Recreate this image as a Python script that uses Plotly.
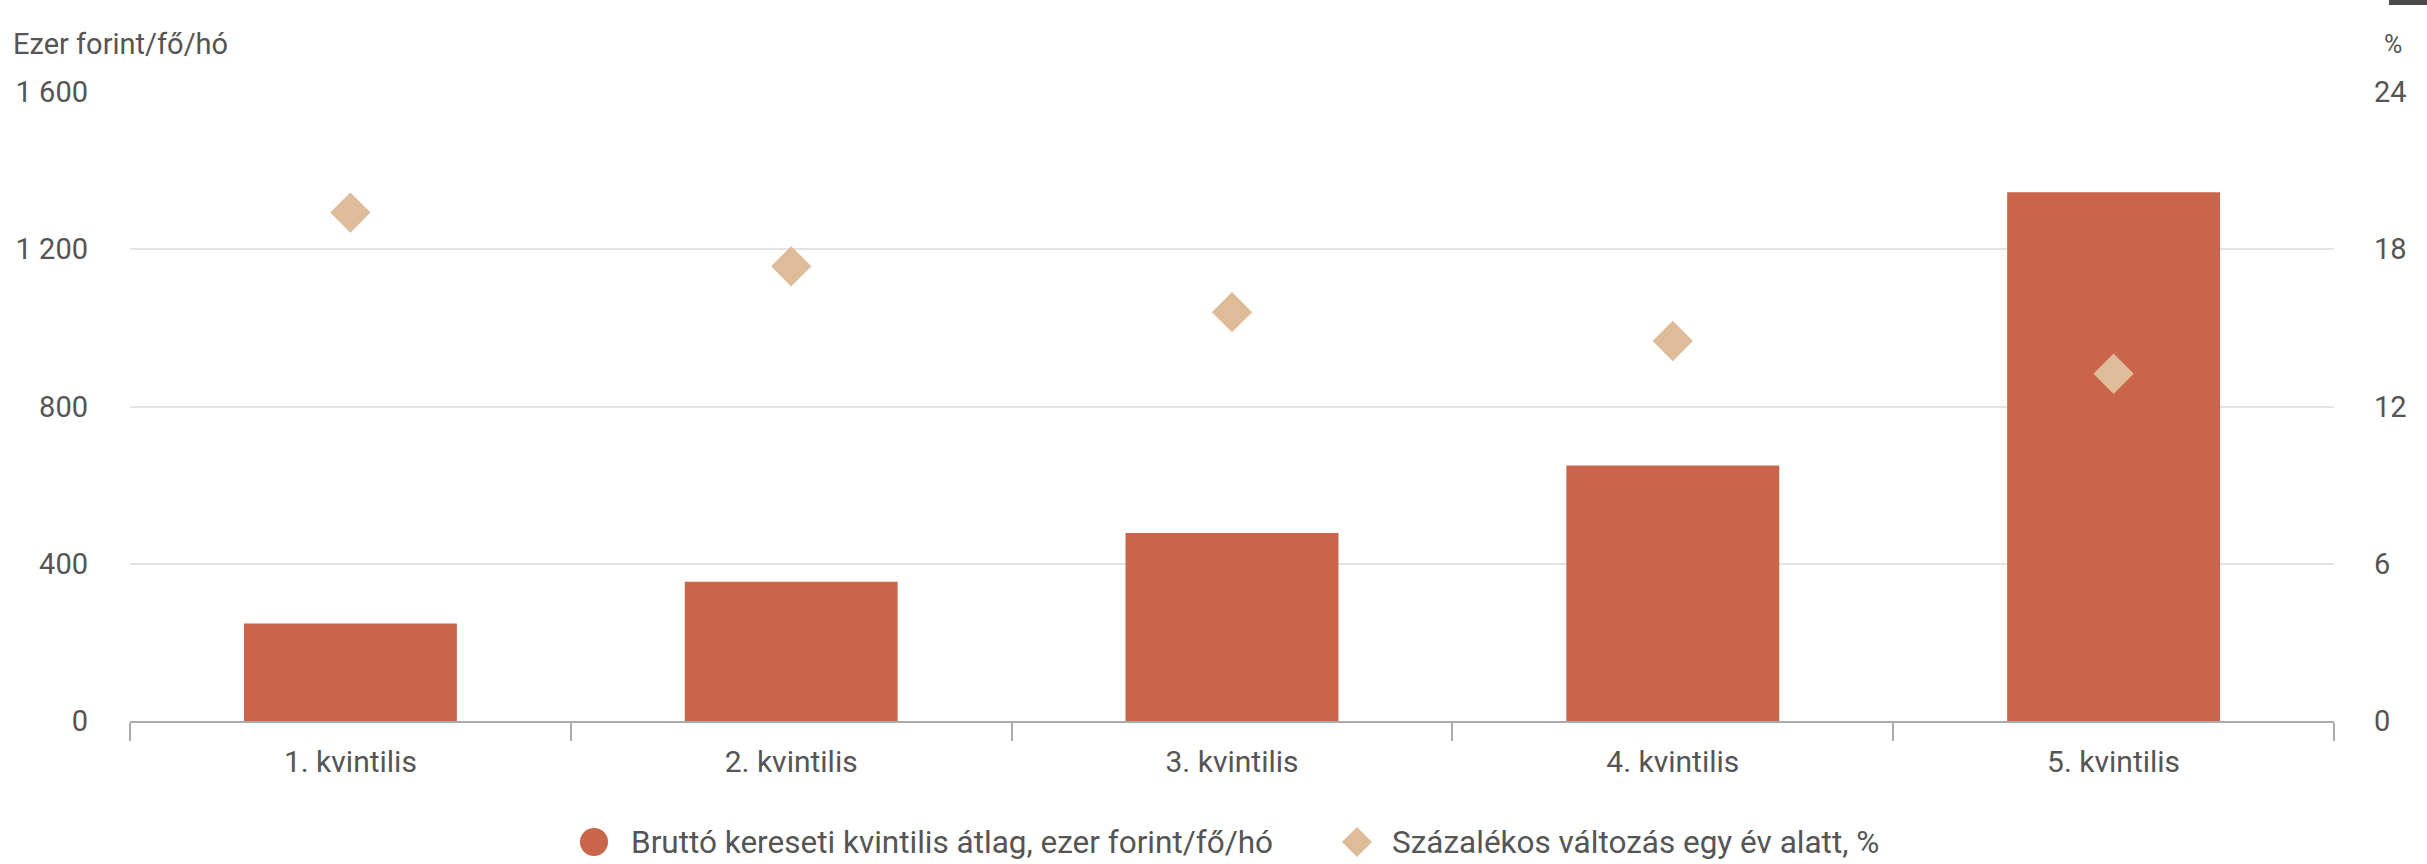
import plotly.graph_objects as go

# data
categories = ["1. kvintilis", "2. kvintilis", "3. kvintilis", "4. kvintilis", "5. kvintilis"]
earnings = [248, 354, 478, 650, 1345]          # ezer forint/fő/hó
change_pct = [19.4, 17.35, 15.6, 14.5, 13.25]   # %

left_ticks = [0, 400, 800, 1200, 1600]
left_labels = ["0", "400", "800", "1 200", "1 600"]
right_ticks = [0, 6, 12, 18, 24]
right_labels = ["0", "6", "12", "18", "24"]

bar_name = "Bruttó kereseti kvintilis átlag, ezer forint/fő/hó"
dot_name = "Százalékos változás egy év alatt, %"

BAR = "#C8654A"
DOT = "#DEBC9A"
TXT = "#555555"
FONT = "Roboto"

# plot area in pixels: x 130..2334, y 92..721
L, R, T, B = 130, 2334, 92, 721
PW, PH = R - L, B - T


def px(x):
    return (x - L) / PW


def py(y):
    return (B - y) / PH


fig = go.Figure()

fig.add_trace(go.Bar(
    x=categories, y=earnings, name=bar_name,
    marker=dict(color=BAR, line=dict(width=0)),
    yaxis="y",
))
fig.add_trace(go.Scatter(
    x=categories, y=change_pct, name=dot_name, mode="markers",
    marker=dict(symbol="diamond", size=31, color=DOT),
    yaxis="y2",
))

fig.update_layout(
    width=2427, height=864,
    margin=dict(l=L, r=2427 - R, t=T, b=864 - B),
    plot_bgcolor="white", paper_bgcolor="white",
    font=dict(family=FONT, size=29, color=TXT),
    bargap=0.517,
    showlegend=False,
    xaxis=dict(
        showgrid=False, showline=True, linecolor="#AAAAAA", linewidth=2,
        ticks="outside", tickson="boundaries", ticklen=18, tickcolor="#AAAAAA",
        tickwidth=2, tickfont=dict(size=30, color=TXT), ticklabelstandoff=13,
    ),
    yaxis=dict(
        range=[0, 1600], tickvals=left_ticks, ticktext=left_labels,
        showgrid=True, gridcolor="#E3E3E3", gridwidth=2, zeroline=False,
        ticklabelstandoff=41, tickfont=dict(size=29, color=TXT),
    ),
    yaxis2=dict(
        range=[0, 24], tickvals=right_ticks, ticktext=right_labels,
        overlaying="y", side="right", showgrid=False, zeroline=False,
        ticklabelstandoff=39, tickfont=dict(size=29, color=TXT),
    ),
)

# axis titles
fig.add_annotation(
    text="Ezer forint/fő/hó", xref="paper", yref="paper",
    x=px(11), y=py(44), xanchor="left", yanchor="middle",
    showarrow=False, font=dict(size=29, color=TXT),
)
fig.add_annotation(
    text="%", xref="paper", yref="paper",
    x=px(2393), y=py(44), xanchor="center", yanchor="middle",
    showarrow=False, font=dict(size=25, color=TXT),
)

# legend (drawn by hand so the symbols keep their size)
LEG_Y = py(842)
fig.add_shape(
    type="circle", xref="paper", yref="paper",
    xsizemode="pixel", ysizemode="pixel", xanchor=px(594), yanchor=LEG_Y,
    x0=-14, x1=14, y0=-14, y1=14,
    fillcolor=BAR, line=dict(width=0),
)
fig.add_shape(
    type="path", xref="paper", yref="paper",
    xsizemode="pixel", ysizemode="pixel", xanchor=px(1357), yanchor=LEG_Y,
    path="M -15,0 L 0,15 L 15,0 L 0,-15 Z",
    fillcolor=DOT, line=dict(width=0),
)
fig.add_annotation(
    text=bar_name, xref="paper", yref="paper", x=px(629), y=LEG_Y,
    xanchor="left", yanchor="middle", showarrow=False,
    font=dict(size=31.5, color=TXT),
)
fig.add_annotation(
    text=dot_name, xref="paper", yref="paper", x=px(1390), y=LEG_Y,
    xanchor="left", yanchor="middle", showarrow=False,
    font=dict(size=31.5, color=TXT),
)

# small dark element cut off in the top right corner
fig.add_shape(
    type="rect", xref="paper", yref="paper",
    x0=px(2389), x1=1.05, y0=py(5), y1=1.2,
    fillcolor="#4A4A4A", line=dict(width=0),
)

fig.write_html(
    "out.html",
    config={"displayModeBar": False},
    post_script="document.body.style.margin='0';",
)
